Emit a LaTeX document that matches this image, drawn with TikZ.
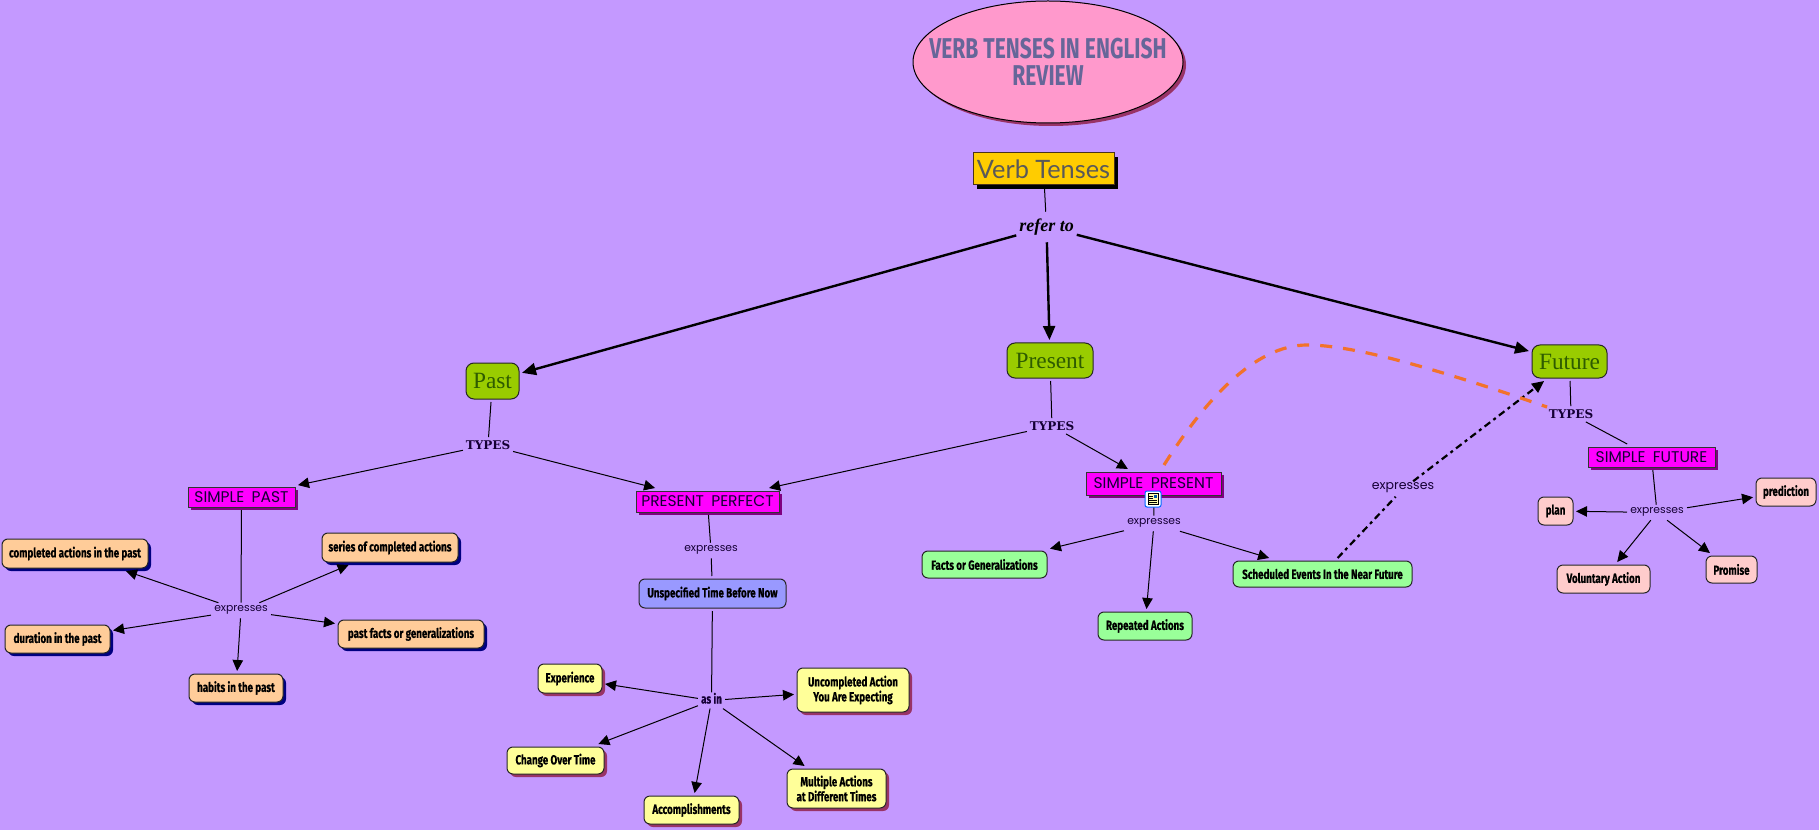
\documentclass[tikz,border=0pt]{standalone}
\usepackage{fontspec}
\usetikzlibrary{arrows.meta,shadows,shapes.geometric}
\newfontfamily\boxf[FakeStretch=0.74,BoldFeatures={FakeBold=0.5}]{Fira Sans}
\newfontfamily\titlef[FakeStretch=0.735]{Fira Sans}
\newfontfamily\labf{Poppins}
\newfontfamily\kindf[WordSpace=1.8]{Poppins}
\newfontfamily\typef{DejaVu Serif}
\newfontfamily\curlf{Liberation Serif}
\newfontfamily\thinf{Lato}
\definecolor{bgc}{HTML}{C499FF}
\definecolor{inkc}{HTML}{150035}
\definecolor{orangec}{HTML}{F2722B}
\def\px{0.75pt}
\tikzset{
  base/.style={rounded corners=6*\px,draw=black!85,line width=1*\px,inner sep=0pt,outer sep=3*\px,align=center,font=\boxf\bfseries\fontsize{9.9}{10}\selectfont,text=black},
  peach/.style={base,fill=peachc,copy shadow={shadow xshift=3*\px,shadow yshift=-3*\px,fill=navyc,draw=none}},
  yellowb/.style={base,fill=yellowc,copy shadow={shadow xshift=3*\px,shadow yshift=-3*\px,fill=wine,draw=none}},
  greenb/.style={base,fill=greenc},
  pinkb/.style={base,fill=pinkc},
  blueb/.style={base,fill=bluec},
  tense/.style={rounded corners=8*\px,draw=black!85,line width=1*\px,fill=olivec,inner sep=0pt,outer sep=3*\px,font=\curlf\fontsize{17.5}{20}\selectfont,text=tensetext},
  kind/.style={draw=black!80,line width=1*\px,fill=magenta!100,inner sep=0pt,outer sep=3*\px,font=\kindf\fontsize{11.6}{12}\selectfont,text=inkc,copy shadow={shadow xshift=3*\px,shadow yshift=-3*\px,fill=purplec,draw=none}},
  express/.style={inner ysep=0pt,inner xsep=3*\px,text height=6pt,text depth=5.25pt,font=\labf\fontsize{8.1}{10}\selectfont,text=inkc},
  typel/.style={inner xsep=2pt,inner ysep=2pt,text height=7pt,text depth=0.5pt,font=\typef\bfseries\fontsize{9}{12}\selectfont,text=inkc},
  asl/.style={inner xsep=3*\px,inner ysep=1.5*\px,text height=7pt,text depth=2.5pt,font=\boxf\bfseries\fontsize{9.9}{11}\selectfont,text=inkc},
  link/.style={draw=black,line width=1*\px},
  arr/.style={link,-{Triangle[length=11*\px,width=10.5*\px]}},
  bigarr/.style={draw=black,line width=2.4*\px,-{Triangle[length=14*\px,width=12*\px]}},
  dashblack/.style={draw=black,line width=2.2*\px,dash pattern=on 7*\px off 4*\px on 3*\px off 4*\px,-{Triangle[length=12*\px,width=11*\px]}},
  dashorange/.style={draw=orangec,line width=3.2*\px,dash pattern=on 12*\px off 11*\px},
}
\definecolor{peachc}{HTML}{FFCC99}
\definecolor{navyc}{HTML}{000080}
\definecolor{yellowc}{HTML}{FFFF99}
\definecolor{wine}{HTML}{993366}
\definecolor{greenc}{HTML}{99FF99}
\definecolor{pinkc}{HTML}{FFCCCC}
\definecolor{bluec}{HTML}{9999FF}
\definecolor{olivec}{HTML}{99CC00}
\definecolor{tensetext}{HTML}{2E5C00}
\definecolor{purplec}{HTML}{800080}
\definecolor{magenta}{HTML}{FF00FF}
\definecolor{rosec}{HTML}{FF99CC}
\definecolor{titlec}{HTML}{666699}
\definecolor{amber}{HTML}{FFCC00}
\begin{document}
\begin{tikzpicture}[x=0.75pt,y=-0.75pt]
\useasboundingbox (0,0) rectangle (1819,830);
\fill[bgc] (0,0) rectangle (1819,830);

% title and root
\node[ellipse,draw=black,line width=1*\px,fill=rosec,inner sep=-40pt,minimum width=270*\px,minimum height=122*\px,align=center,
  font=\titlef\bfseries\fontsize{21.5}{20}\selectfont,text=titlec,
  copy shadow={shadow xshift=3*\px,shadow yshift=-3*\px,fill=wine,draw=none}] (title) at (1048,62) {VERB TENSES IN ENGLISH\\REVIEW};
\node[draw=black!60!brown,line width=1*\px,fill=amber,inner sep=0pt,outer sep=3*\px,minimum width=141*\px,minimum height=32*\px,
  font=\thinf\fontsize{19}{24}\selectfont,text=black!65,copy shadow={shadow xshift=4*\px,shadow yshift=-4*\px,fill=black,draw=none}] (verb) at (1043.5,169) {Verb Tenses};
\node[inner sep=0pt,minimum width=60*\px,minimum height=30*\px,font=\curlf\bfseries\itshape\fontsize{13.5}{16}\selectfont,text=black] (refer) at (1046.5,227) {refer to};

% tenses
\node[tense,minimum width=53*\px,minimum height=36*\px] (past) at (492.5,381) {Past};
\node[tense,minimum width=86*\px,minimum height=35*\px] (present) at (1050,360.5) {Present};
\node[tense,minimum width=75*\px,minimum height=33*\px] (future) at (1569.5,361.5) {Future};

% TYPES labels
\node[typel] (typesA) at (488,445) {TYPES};
\node[typel] (typesB) at (1052,426) {TYPES};
\node[typel] (typesC) at (1571,414) {TYPES};

% kinds
\node[kind,minimum width=107*\px,minimum height=20*\px] (spast) at (241.5,497) {SIMPLE PAST};
\node[kind,minimum width=143*\px,minimum height=21*\px] (pperf) at (707.5,501.5) {PRESENT PERFECT};
\node[kind,minimum width=135*\px,minimum height=23*\px] (spres) at (1153.5,483.5) {SIMPLE PRESENT};
\node[kind,minimum width=127*\px,minimum height=20*\px] (sfut) at (1651.5,457) {SIMPLE FUTURE};

% expresses / as in labels
\node[express] (exA) at (241,610.5) {expresses};
\node[express] (exB) at (711,550.5) {expresses};
\node[express] (exC) at (1154,523.5) {expresses};
\node[express] (exD) at (1657,512.5) {expresses};
\node[express,font=\labf\fontsize{9.4}{11}\selectfont] (exE) at (1403,489) {expresses};
\node[asl] (asin) at (711.5,700.5) {as in};

% past leaves
\node[peach,minimum width=146*\px,minimum height=29*\px] (completed) at (75,553.5) {completed actions in the past};
\node[peach,minimum width=136*\px,minimum height=29*\px] (series) at (390,547.5) {series of completed actions};
\node[peach,minimum width=105*\px,minimum height=28*\px] (duration) at (57.5,639) {duration in the past};
\node[peach,minimum width=146*\px,minimum height=28*\px] (pastfacts) at (411,634) {past facts or generalizations};
\node[peach,minimum width=94*\px,minimum height=28*\px] (habits) at (236,688) {habits in the past};

% present perfect leaves
\node[blueb,minimum width=147*\px,minimum height=29*\px] (unspec) at (712.5,593.5) {Unspecified Time Before Now};
\node[yellowb,minimum width=64*\px,minimum height=29*\px] (exper) at (570,678.5) {Experience};
\node[yellowb,minimum width=112*\px,minimum height=44*\px] (uncomp) at (853,690) {Uncompleted Action\\You Are Expecting};
\node[yellowb,minimum width=97*\px,minimum height=27*\px] (change) at (555.5,760.5) {Change Over Time};
\node[yellowb,minimum width=95*\px,minimum height=28*\px] (accomp) at (691.5,810) {Accomplishments};
\node[yellowb,minimum width=99*\px,minimum height=39*\px] (multi) at (836.5,788.5) {Multiple Actions\\at Different Times};

% simple present leaves
\node[greenb,minimum width=125*\px,minimum height=27*\px] (facts) at (984.5,564.5) {Facts or Generalizations};
\node[greenb,minimum width=94*\px,minimum height=28*\px] (repeated) at (1145,626) {Repeated Actions};
\node[greenb,minimum width=179*\px,minimum height=26*\px] (sched) at (1322.5,574) {Scheduled Events In the Near Future};

% simple future leaves
\node[pinkb,minimum width=35*\px,minimum height=28*\px] (plan) at (1555.5,511) {plan};
\node[pinkb,minimum width=60*\px,minimum height=28*\px] (predict) at (1786,492) {prediction};
\node[pinkb,minimum width=93*\px,minimum height=28*\px] (volun) at (1603.5,579) {Voluntary Action};
\node[pinkb,minimum width=51*\px,minimum height=27*\px] (promise) at (1731.5,569.5) {Promise};

% connectors
\draw[link] (verb) -- (refer);
\draw[bigarr] (refer) -- (past);
\draw[bigarr] (refer) -- (present);
\draw[bigarr] (refer) -- (future);

\draw[link] (past) -- (typesA);
\draw[arr] (typesA) -- (spast);
\draw[arr] (typesA) -- (pperf);
\draw[link] (present) -- (typesB);
\draw[arr] (typesB) -- (pperf);
\draw[arr] (typesB) -- (spres);
\draw[link] (future) -- (typesC);
\draw[link] (typesC) -- (sfut);

\draw[link] (spast) -- (exA);
\draw[arr] (exA) -- (completed);
\draw[arr] (exA) -- (series);
\draw[arr] (exA) -- (duration);
\draw[arr] (exA) -- (pastfacts);
\draw[arr] (exA) -- (habits);

\draw[link] (pperf) -- (exB);
\draw[link] (exB) -- (unspec);
\draw[link] (unspec) -- (asin);
\draw[arr] (asin) -- (exper);
\draw[arr] (asin) -- (uncomp);
\draw[arr] (asin) -- (change);
\draw[arr] (asin) -- (accomp);
\draw[arr] (asin) -- (multi);

\draw[link] (spres) -- (exC);
\draw[arr] (exC) -- (facts);
\draw[arr] (exC) -- (repeated);
\draw[arr] (exC) -- (sched);

\draw[link] (sfut) -- (exD);
\draw[arr] (exD) -- (plan);
\draw[arr] (exD) -- (predict);
\draw[arr] (exD) -- (volun);
\draw[arr] (exD) -- (promise);

\draw[dashblack] (sched) -- (exE) -- (future);

\coordinate (orangeStart) at (1164,465);
\coordinate (orangeTop) at (1307,345);
\coordinate (orangeEnd) at (1547,407);
\draw[dashorange] (orangeStart) .. controls (1205,400) and (1255,345) .. (orangeTop) .. controls (1355,345) and (1440,370) .. (orangeEnd);

% resource icon on SIMPLE PRESENT
\draw[draw=blue!60!cyan,line width=1*\px,fill=white,rounded corners=2*\px] (1145,491) rectangle (1161,507);
\fill[yellowc!80!white,draw=black,line width=0.7*\px] (1148,493.5) rectangle (1158,504.5);
\fill[teal!70!blue] (1153.5,494.5) rectangle (1157,498);
\draw[black,line width=0.8*\px] (1149,496) -- (1152.5,496) (1149,498) -- (1152.5,498) (1149,500) -- (1157,500) (1149,502.5) -- (1157,502.5);
\end{tikzpicture}
\end{document}
